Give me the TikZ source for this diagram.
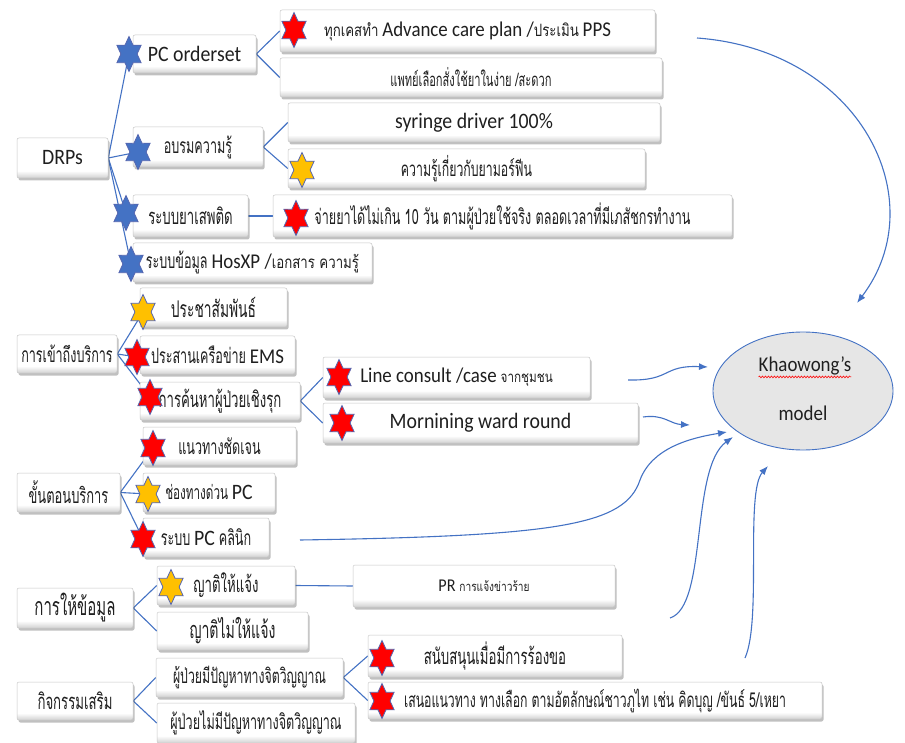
\documentclass[tikz,border=0pt]{standalone}
\usepackage{fontspec}
\setmainfont{Carlito}[FakeStretch=0.9]
\newfontfamily\thai[Script=Thai,FakeStretch=0.6]{Loma}
\newfontfamily\thaiw[Script=Thai,FakeStretch=0.78]{Loma}
\usetikzlibrary{shapes.geometric,shadows,arrows.meta,decorations.pathmorphing,calc}

\definecolor{linkblue}{HTML}{4472C4}
\definecolor{starred}{HTML}{FF0000}
\definecolor{staryellow}{HTML}{FFC000}
\definecolor{starblue}{HTML}{4472C4}
\definecolor{starrim}{HTML}{5566B0}
\definecolor{ovalfill}{HTML}{E6E6E6}

% soft grey band along the lower edge of every box
\pgfdeclareverticalshading{boxshade}{100bp}{color(0bp)=(black!18); color(25bp)=(black!18); color(34bp)=(white); color(100bp)=(white)}

\pgfdeclarelayer{bg}
\pgfsetlayers{bg,main}

% Thai (tall, narrow), Thai (wider, small runs) and Latin runs at a given size
\newcommand\Th[2]{{\thai\fontsize{#1}{#1}\selectfont #2}}
\newcommand\Tw[2]{{\thaiw\fontsize{#1}{#1}\selectfont #2}}
\newcommand\La[2]{{\fontsize{#1}{#1}\selectfont #2}}

% six-pointed star with a named centre: name, position, fill
\newcommand\hexstar[3]{%
  \coordinate (#1) at #2;
  \filldraw[fill=#3, draw=starrim, line width=0.8pt, shift={#2}]
    (90:14pt and 17.5pt) -- (120:8.1pt and 10.1pt) --
    (150:14pt and 17.5pt) -- (180:8.1pt and 10.1pt) --
    (210:14pt and 17.5pt) -- (240:8.1pt and 10.1pt) --
    (270:14pt and 17.5pt) -- (300:8.1pt and 10.1pt) --
    (330:14pt and 17.5pt) -- (0:8.1pt and 10.1pt) --
    (30:14pt and 17.5pt) -- (60:8.1pt and 10.1pt) -- cycle;}

\tikzset{
  box/.style n args={2}{rectangle, rounded corners=2pt, draw=black!22, line width=0.5pt,
    shading=boxshade, minimum width=#1pt, minimum height=#2pt, inner sep=0pt,
    text=black!88, font=\fontsize{19}{21}\selectfont,
    drop shadow={shadow xshift=1.5pt, shadow yshift=-2.5pt, opacity=0.35, fill=black!70}},
  link/.style={draw=linkblue, line width=1.1pt},
  feed/.style={draw=linkblue, line width=1.1pt, -{Latex[length=9pt,width=7pt]}},
}

\begin{document}
\begin{tikzpicture}[x=1pt, y=-1pt]
\useasboundingbox (0,0) rectangle (905,743);
\begin{pgfonlayer}{bg}
  \fill[white] (0,0) rectangle (905,743);
\end{pgfonlayer}

% ---- DRPs branch
\node[box={91}{40}]   (drps) at (62.5,158)  {\La{22}{DRPs}};
\node[box={123}{38}]  (pco)  at (194.5,54)  {\La{22}{PC orderset}};
\node[box={375}{42}]  (adv)  at (467.5,31)  {\Tw{17}{ทุกเคสทำ} \La{21}{Advance care plan /}\Tw{17}{ประเมิน} \La{21}{PPS}};
\node[box={382}{39}]  (med)  at (471,77.5)  {\Th{18.5}{แพทย์เลือกสั่งใช้ยาในง่าย /สะดวก}};
\node[box={130}{40}]  (edu)  at (198,147)   {\Th{21}{อบรมความรู้}};
\node[box={372}{39}]  (syr)  at (474,122.5) {\La{22}{syringe driver 100\%}};
\node[box={357}{39}]  (mor)  at (466.5,168.5) {\Th{20.5}{ความรู้เกี่ยวกับยามอร์ฟีน}};
\node[box={115}{42}]  (nar)  at (190.5,216) {\Th{22}{ระบบยาเสพติด}};
\node[box={459}{42}]  (disp) at (502.5,216) {\Th{21}{จ่ายยาได้ไม่เกิน 10 วัน ตามผู้ป่วยใช้จริง ตลอดเวลาที่มีเภสัชกรทำงาน}};
\node[box={239}{39}]  (hos)  at (252.5,262.5) {\Th{21}{ระบบข้อมูล} \La{21}{HosXP /}\Tw{17}{เอกสาร ความรู้}};

% ---- access branch
\node[box={100}{38}]  (acc)  at (67,354)    {\Th{21}{การเข้าถึงบริการ}};
\node[box={147}{39}]  (pr1)  at (213.5,307.5) {\Th{23}{ประชาสัมพันธ์}};
\node[box={155}{38}]  (ems)  at (217.5,355) {\Th{21}{ประสานเครือข่าย} \La{21}{EMS}};
\node[box={160}{38}]  (act)  at (220,401)   {\Th{22}{การค้นหาผู้ป่วยเชิงรุก}};
\node[box={267}{41}]  (line) at (456.5,377.5) {\La{21}{Line consult /case} \Tw{15}{จากชุมชน}};
\node[box={315}{40}]  (ward) at (480.5,423) {\La{22}{Mornining ward round}};

% ---- service-steps branch
\node[box={103}{39}]  (proc) at (68.5,492.5) {\Th{21.5}{ขั้นตอนบริการ}};
\node[box={153}{38}]  (gui)  at (219.5,446) {\Th{21}{แนวทางชัดเจน}};
\node[box={132}{39}]  (fast) at (209,492.5) {\Th{19.5}{ช่องทางด่วน} \La{22}{PC}};
\node[box={126}{39}]  (clin) at (206,537.5) {\Th{21}{ระบบ} \La{22}{PC} \Th{21}{คลินิก}};

% ---- information branch
\node[box={116}{40}]  (info) at (75,608)    {\Th{25}{การให้ข้อมูล}};
\node[box={138}{39}]  (yes)  at (226,585.5) {\Th{22}{ญาติให้แจ้ง}};
\node[box={151}{38}]  (no)   at (232.5,631) {\Th{23.5}{ญาติไม่ให้แจ้ง}};
\node[box={262}{42}]  (prn)  at (484,586)   {\La{18}{PR} \Tw{13}{การแจ้งข่าวร้าย}};

% ---- extra-activities branch
\node[box={116}{38}]  (extra) at (75,701)   {\Th{22}{กิจกรรมเสริม}};
\node[box={187}{39}]  (sp)   at (249.5,677.5) {\Th{20.5}{ผู้ป่วยมีปัญหาทางจิตวิญญาณ}};
\node[box={198}{40}]  (nsp)  at (256,723)   {\Th{21}{ผู้ป่วยไม่มีปัญหาทางจิตวิญญาณ}};
\node[box={254}{42}]  (sup)  at (495,656)   {\Th{22}{สนับสนุนเมื่อมีการร้องขอ}};
\node[box={454}{37}]  (off)  at (595,700.5) {\Th{20.5}{เสนอแนวทาง ทางเลือก ตามอัตลักษณ์ชาวภูไท เช่น คิดบุญ /ขันธ์ 5/เหยา}};

% ---- stars
\hexstar{s-pco}{(129,54)}{starblue}
\hexstar{s-adv}{(294,30)}{starred}
\hexstar{s-edu}{(138,152)}{starblue}
\hexstar{s-mor}{(302,170)}{staryellow}
\hexstar{s-nar}{(126,213)}{starblue}
\hexstar{s-disp}{(296,218)}{starred}
\hexstar{s-hos}{(131,264)}{starblue}
\hexstar{s-pr1}{(143,312)}{staryellow}
\hexstar{s-ems}{(137,357)}{starred}
\hexstar{s-act}{(150,397)}{starred}
\hexstar{s-line}{(339,377)}{starred}
\hexstar{s-ward}{(342,423)}{starred}
\hexstar{s-gui}{(153,448)}{starred}
\hexstar{s-fast}{(148,494)}{staryellow}
\hexstar{s-clin}{(143,539)}{starred}
\hexstar{s-yes}{(171,587)}{staryellow}
\hexstar{s-sup}{(382,658)}{starred}
\hexstar{s-off}{(382,701)}{starred}

% ---- the model
\node[ellipse, draw=linkblue, line width=0.9pt, fill=ovalfill,
      minimum width=180pt, minimum height=118pt, inner sep=0pt] (km) at (803,391) {};
\node[text=black!88, inner sep=0pt] (kmname) at ($(km.center)+(2,-25)$) {\La{21}{Khaowong’s}};
\node[text=black!88, inner sep=0pt] (kmword) at ($(km.center)+(0,22)$) {\La{21}{model}};
\draw[red, line width=0.6pt, decorate,
      decoration={snake, amplitude=0.9pt, segment length=3pt}]
  ($(kmname.south west)+(0,1.5)$) -- ($(kmname.south east)+(0,1.5)$);

% free ends of the feeding arrows
\coordinate (f1) at (697,38);
\coordinate (f2) at (628,380);
\coordinate (f3) at (643,417);
\coordinate (f4) at (300,540);
\coordinate (f5) at (670,618);
\coordinate (f6) at (745,658);
\coordinate (t1) at (857,303);
\coordinate (t2) at (708,367);
\coordinate (t3) at (690,425);
\coordinate (t4) at (727,432);
\coordinate (t5) at (733,437);
\coordinate (t6) at (768,466);

\begin{pgfonlayer}{bg}
  % tree connectors
  \foreach \c in {s-pco,s-edu,s-nar,s-hos} \draw[link] (drps.east) -- (\c);
  \draw[link] (pco.east) -- (adv.west);
  \draw[link] (pco.east) -- (med.west);
  \draw[link] (edu.east) -- (syr.west);
  \draw[link] (edu.east) -- (mor.west);
  \draw[link] (nar.east) -- (disp.west);
  \foreach \c in {s-pr1,s-ems,s-act} \draw[link] (acc.east) -- (\c);
  \draw[link] (act.east) -- (line.west);
  \draw[link] (act.east) -- (ward.west);
  \foreach \c in {s-gui,s-fast,s-clin} \draw[link] (proc.east) -- (\c);
  \draw[link] (info.east) -- (yes.west);
  \draw[link] (info.east) -- (no.west);
  \draw[link] (yes.east) -- (prn.west);
  \draw[link] (extra.east) -- (sp.west);
  \draw[link] (extra.east) -- (nsp.west);
  \draw[link] (sp.east) -- (sup.west);
  \draw[link] (sp.east) -- (off.west);
\end{pgfonlayer}

% arrows into the model
\draw[feed] (f1) .. controls (860,50) and (935,200) .. (t1);
\draw[feed] (f2) .. controls (672,381) and (662,365) .. (t2);
\draw[feed] (f3) .. controls (664,414) and (670,424) .. (t3);
\draw[feed] (f4) .. controls (560,536) and (625,525) .. (640,480)
                 .. controls (652,448) and (690,438) .. (t4);
\draw[feed] (f5) .. controls (708,606) and (690,468) .. (t5);
\draw[feed] (f6) .. controls (762,620) and (745,492) .. (t6);
\end{tikzpicture}
\end{document}
